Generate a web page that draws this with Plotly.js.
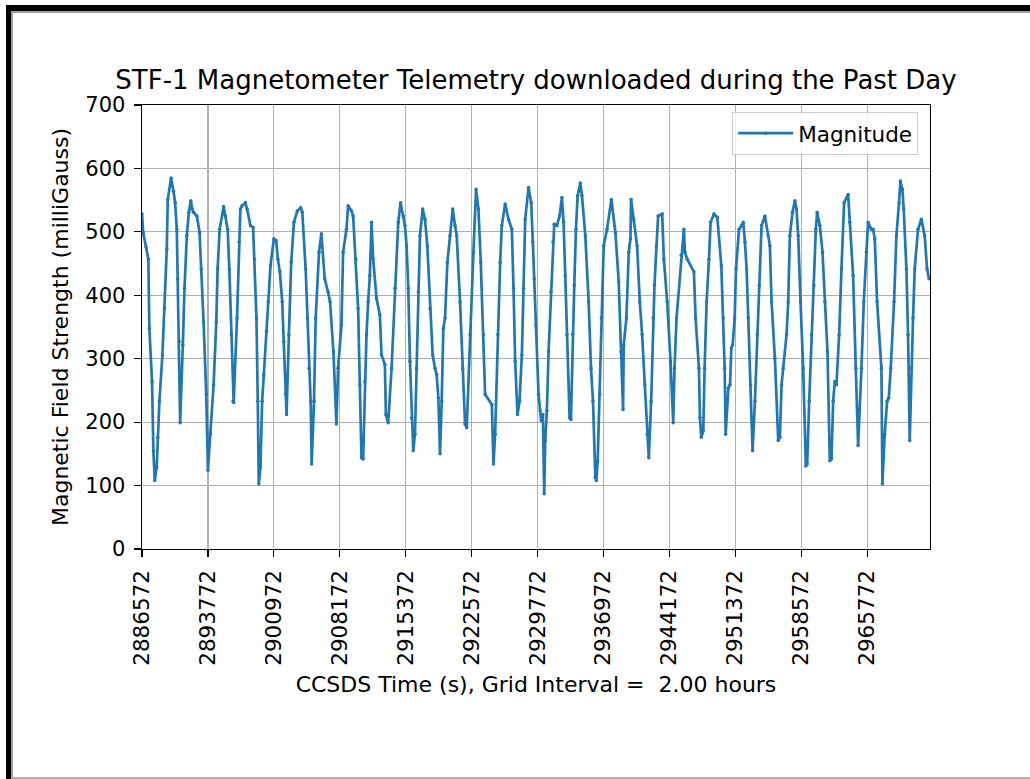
<!DOCTYPE html>
<html>
<head>
<meta charset="utf-8">
<script src="https://cdn.plot.ly/plotly-3.0.1.min.js"></script>
<style>
  html, body { margin: 0; padding: 0; background: #ffffff; }
  #wrap { position: relative; width: 1030px; height: 779px; overflow: hidden; }
  #chart { position: absolute; left: 0; top: 0; width: 1030px; height: 779px; }
  .frame { position: absolute; pointer-events: none; }
</style>
</head>
<body>
<div id="wrap">
  <div id="chart"></div>
  <div class="frame" style="left:6px; top:5px; width:1024px; height:6px; background:#000;"></div>
  <div class="frame" style="left:11px; top:11px; width:1019px; height:2px; background:#a0a0a0;"></div>
  <div class="frame" style="left:6px; top:5px; width:5px; height:774px; background:#000;"></div>
  <div class="frame" style="left:11px; top:11px; width:2px; height:768px; background:#a0a0a0;"></div>
  <div class="frame" style="left:11px; top:777px; width:1019px; height:2px; background:#b0b0b0;"></div>
</div>
<script>
// CCSDS time (s) of each sample
const timeSeconds = [
  2886572,2886718,2887011,2887266,2887376,2887669,2887815,2887961,2888180,2888290,
  2888473,2888802,2889021,2889277,2889386,2889752,2890008,2890191,2890373,2890483,
  2890629,2890739,2891031,2891214,2891470,2891689,2891908,2892054,2892201,2892566,
  2892859,2893041,2893297,2893590,2893772,2894028,2894393,2894686,2894832,2895051,
  2895490,2895673,2895929,2896111,2896331,2896514,2896587,2896952,2897172,2897318,
  2897500,2897866,2898049,2898414,2898707,2898853,2899072,2899218,2899328,2899511,
  2899694,2899876,2900169,2900352,2900608,2900972,2901228,2901411,2901631,2901886,
  2902069,2902252,2902362,2902617,2902873,2903166,2903531,2903897,2904080,2904445,
  2904628,2904811,2904994,2905103,2905359,2905542,2905908,2906163,2906529,2906894,
  2907113,2907479,
  2907807,2907990,2908355,2908537,2908902,2909085,2909450,2909633,2909924,2910180,
  2910362,2910545,2910727,2910910,2911092,2911275,2911457,2911640,2911822,2912187,
  2912552,2912735,2913100,2913209,2913465,2913830,2914195,2914560,2914815,2915107,
  2915290,2915472,2915655,2915837,2916020,2916202,2916385,2916567,2916750,2916932,
  2917224,2917480,2917736,2918027,2918319,2918575,2918757,2918940,2919122,2919305,
  2919487,2919670,2919925,2920217,2920509,2920762,2920945,2921310,2921603,2921857,
  2922040,2922405,2922770,2923062,2923318,2923573,2923865,2924047,2924780,2924960,
  2925142,2925434,2925690,2925872,2926237,2926602,2926967,2927150,2927332,2927588,
  2927807,2928062,2928245,2928427,2928792,
  2929079,2929261,2929407,2929590,2929882,2930064,2930174,2930356,2930502,2930612,
  2930794,2930977,2931232,2931451,2931597,2931889,2932181,2932437,2932619,2932802,
  2932984,2933276,2933422,2933605,2933787,2933970,2934152,2934444,2934627,2934992,
  2935357,2935612,2935831,2936087,2936196,2936342,2936561,2936744,2936999,2937364,
  2937839,2938277,2938642,2938897,2939116,2939189,2939481,2939737,2939919,2939992,
  2940284,2940649,2940941,2941197,2941489,2941744,2941927,2942182,2942401,2942547,
  2942766,2942949,2943387,2943569,2943934,2944299,2944591,2944737,2944956,2945467,
  2945759,2945869,2946124,2946854,2947037,2947402,2947511,2947657,2947876,2948022,
  2948241,2948497,2948679,2949044,2949409,2949847,2950066,2950212,2950321,2950614,
  2950796,2950942,2951088,2951307,2951453,2951781,
  2952063,2952244,2952426,2952608,2952790,2953044,2953262,2953517,2953772,2953990,
  2954244,2954608,2954971,2955153,2955335,2955699,2956062,2956244,2956426,2956608,
  2956971,2957153,2957335,2957626,2957880,2958062,2958244,2958498,2958789,2959080,
  2959226,2959444,2959698,2959953,2960171,2960316,2960607,2960898,2961153,2961443,
  2961698,2961880,2962062,2962243,2962425,2962716,2962971,2963261,2963698,2963880,
  2964243,2964534,2964789,2965152,2965407,2965698,2965879,2966243,2966425,2966607,
  2966861,2967334,2967443,2967697,2967952,2968134,2968352,2968716,2968970,2969261,
  2969406,2969624,2969770,2970061,2970243,2970424,2970606,2970788,2970970,2971333,
  2971697,2972060,2972315,2972533
];

// Magnetic field magnitude (milliGauss)
const magnitudeMilliGauss = [
  528,497,476,457,348,264,155,108,129,176,
  233,306,379,473,551,585,564,546,504,426,
  327,199,322,411,494,531,549,536,531,525,
  499,442,358,244,124,181,259,358,442,504,
  540,525,504,442,338,233,231,364,484,536,
  541,546,536,510,507,457,364,233,103,129,
  233,275,343,390,447,489,486,457,437,390,
  327,244,212,338,452,515,533,538,531,442,
  364,285,233,134,233,364,468,497,426,405,
  390,311,
  197,285,353,468,504,541,533,525,457,379,
  259,144,142,264,338,390,431,515,457,395,
  369,306,291,212,199,285,411,515,546,525,
  510,478,411,296,207,155,181,285,405,494,
  536,520,478,379,306,285,275,238,150,233,
  348,364,452,494,536,510,494,390,285,197,
  191,338,468,567,536,452,338,244,228,134,
  181,338,452,510,544,520,504,411,296,212,
  233,306,411,520,570,
  546,484,426,353,244,218,202,212,87,171,
  218,311,405,484,512,510,525,554,515,431,
  338,207,204,338,416,504,557,577,557,494,
  390,285,233,113,108,139,244,364,478,504,
  551,499,421,311,220,322,364,468,489,551,
  520,478,390,338,259,181,144,233,364,416,
  478,525,528,457,390,296,199,285,364,463,
  504,468,457,437,364,285,207,176,186,285,
  390,457,515,528,523,447,364,285,181,254,
  259,317,322,364,442,504,
  510,515,484,442,364,259,155,233,338,416,
  510,525,494,478,390,301,171,176,259,285,
  338,390,494,531,549,536,494,390,285,131,
  134,233,338,416,504,531,510,468,390,311,
  139,142,233,264,259,338,442,546,559,515,
  431,285,163,285,390,468,515,504,504,489,
  390,285,103,181,233,238,285,390,494,546,
  580,567,536,442,338,171,285,364,442,504,
  520,494,442,426
];

const tickStart = 2886572;
const tickStep = 7200;
const tickValues = [];
for (let k = 0; k < 12; k++) tickValues.push(tickStart + k * tickStep);
const tickLabels = tickValues.map(v => String(v));

const yTickValues = [0, 100, 200, 300, 400, 500, 600, 700];
const yTickLabels = ['0', '100', '200', '300', '400', '500', '600', '700'];

const seriesName = 'Magnitude';
const chartTitle = 'STF-1 Magnetometer Telemetry downloaded during the Past Day';
const xTitle = 'CCSDS Time (s), Grid Interval =  2.00 hours';
const yTitle = 'Magnetic Field Strength (milliGauss)';

const font = 'DejaVu Sans, sans-serif';

const trace = {
  x: timeSeconds,
  y: magnitudeMilliGauss,
  type: 'scatter',
  mode: 'lines+markers',
  name: seriesName,
  line: { color: '#1f77b4', width: 2.7 },
  marker: { color: '#1f77b4', size: 3.5 },
  showlegend: true
};

const layout = {
  width: 1030,
  height: 779,
  paper_bgcolor: '#ffffff',
  plot_bgcolor: '#ffffff',
  margin: { l: 142, r: 100, t: 105, b: 230, pad: 0 },
  font: { family: font, size: 21, color: '#000000' },
  title: {
    text: chartTitle,
    font: { family: font, size: 26, color: '#000000' },
    x: 0.5, xref: 'paper', xanchor: 'center',
    y: 1 - 80 / 779, yref: 'container', yanchor: 'middle'
  },
  xaxis: {
    range: [2886572, 2972640],
    tickmode: 'array',
    tickvals: tickValues,
    ticktext: tickLabels,
    tickangle: -90,
    ticks: 'outside', ticklen: 7, tickwidth: 1.2, tickcolor: '#000000',
    ticklabelstandoff: 4,
    tickfont: { family: font, size: 21.5, color: '#000000' },
    showgrid: true, gridcolor: '#b0b0b0', gridwidth: 1.2,
    showline: true, linecolor: '#000000', linewidth: 1.4, mirror: true,
    zeroline: false,
    title: { text: xTitle, font: { family: font, size: 22, color: '#000000' }, standoff: 12 }
  },
  yaxis: {
    range: [0, 700],
    tickmode: 'array',
    tickvals: yTickValues,
    ticktext: yTickLabels,
    ticks: 'outside', ticklen: 7, tickwidth: 1.2, tickcolor: '#000000',
    ticklabelstandoff: 4,
    tickfont: { family: font, size: 21, color: '#000000' },
    showgrid: true, gridcolor: '#b0b0b0', gridwidth: 1.2,
    showline: true, linecolor: '#000000', linewidth: 1.4, mirror: true,
    zeroline: false,
    title: { text: yTitle, font: { family: font, size: 22, color: '#000000' }, standoff: 10 }
  },
  legend: {
    x: 0.985, xanchor: 'right', y: 0.985, yanchor: 'top',
    bgcolor: 'rgba(255,255,255,0.8)', bordercolor: '#cccccc', borderwidth: 1,
    itemwidth: 55,
    font: { family: font, size: 21.5, color: '#000000' }
  },
  showlegend: true
};

Plotly.newPlot('chart', [trace], layout, { staticPlot: true, displayModeBar: false });
</script>
</body>
</html>
